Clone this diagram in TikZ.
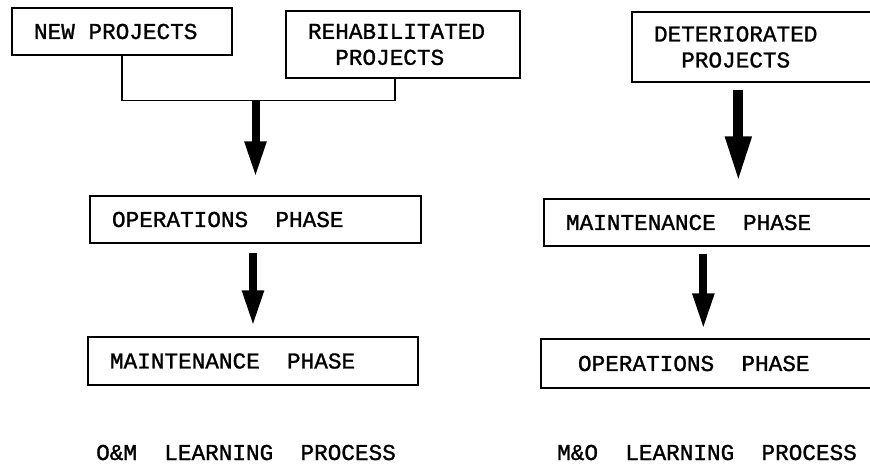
\documentclass[tikz,border=0pt]{standalone}
\usepackage{fontspec}
\setmonofont{Liberation Mono}[FakeBold=1.2]
\usetikzlibrary{arrows.meta}

\begin{document}
\begin{tikzpicture}[x=1pt,y=-1pt,
  box/.style={draw, line width=1.3pt, align=left, inner xsep=22pt, inner ysep=0pt,
    font=\ttfamily\fontsize{22.7}{26}\selectfont,
    execute at begin node={\spaceskip=0.6em\relax}},
  caption/.style={inner sep=0pt, font=\ttfamily\fontsize{22.7}{26}\selectfont},
  link/.style={line width=1.3pt},
  bigarrow/.style={line width=8pt, -{Triangle[width=20pt,length=36pt]}}]
\useasboundingbox (0,0) rectangle (870,465);
\node[box, text width=176pt, minimum height=47pt] (new) at (122,31.5) {NEW PROJECTS};
\node[box, text width=190pt, minimum height=67pt] (rehab) at (403,44.5) {REHABILITATED\\\phantom{XX}PROJECTS};
\node[box, text width=224pt, minimum height=70pt] (deter) at (766,47) {DETERIORATED\\\phantom{XX}PROJECTS};
\node[box, text width=287pt, minimum height=47pt] (opsL) at (255.5,219.5) {OPERATIONS~~PHASE};
\node[box, text width=286pt, minimum height=48pt] (maintL) at (253,361) {MAINTENANCE~~PHASE};
\node[box, text width=312pt, minimum height=47pt] (maintR) at (722,222.5) {MAINTENANCE~~PHASE};
\node[box, inner xsep=37pt, text width=285pt, minimum height=49pt] (opsR) at (720.5,363.5) {OPERATIONS~~PHASE};
\node[caption, anchor=base west] (omcap) at (96,460) {O\&M~~LEARNING~~PROCESS};
\node[caption, anchor=base west] (mocap) at (557,460) {M\&O~~LEARNING~~PROCESS};
\draw[link] (new.south) -- ++(0,45) coordinate (join) -| ([xshift=-8pt]rehab.south);
\draw[bigarrow, shorten >=18pt] (join -| opsL.north) -- (opsL.north);
\draw[bigarrow, shorten <=9pt, shorten >=10pt] (maintL.north |- opsL.south) -- (maintL.north);
\coordinate (d1) at ([xshift=107pt]deter.south west);
\draw[bigarrow, line width=10pt, -{Triangle[width=24pt,length=46pt]}, shorten <=7pt, shorten >=16pt]
  (d1) -- (d1 |- maintR.north);
\coordinate (m1) at ([xshift=160pt]maintR.south west);
\draw[bigarrow, shorten <=7pt, shorten >=9pt] (m1) -- (m1 |- opsR.north);
\end{tikzpicture}
\end{document}
